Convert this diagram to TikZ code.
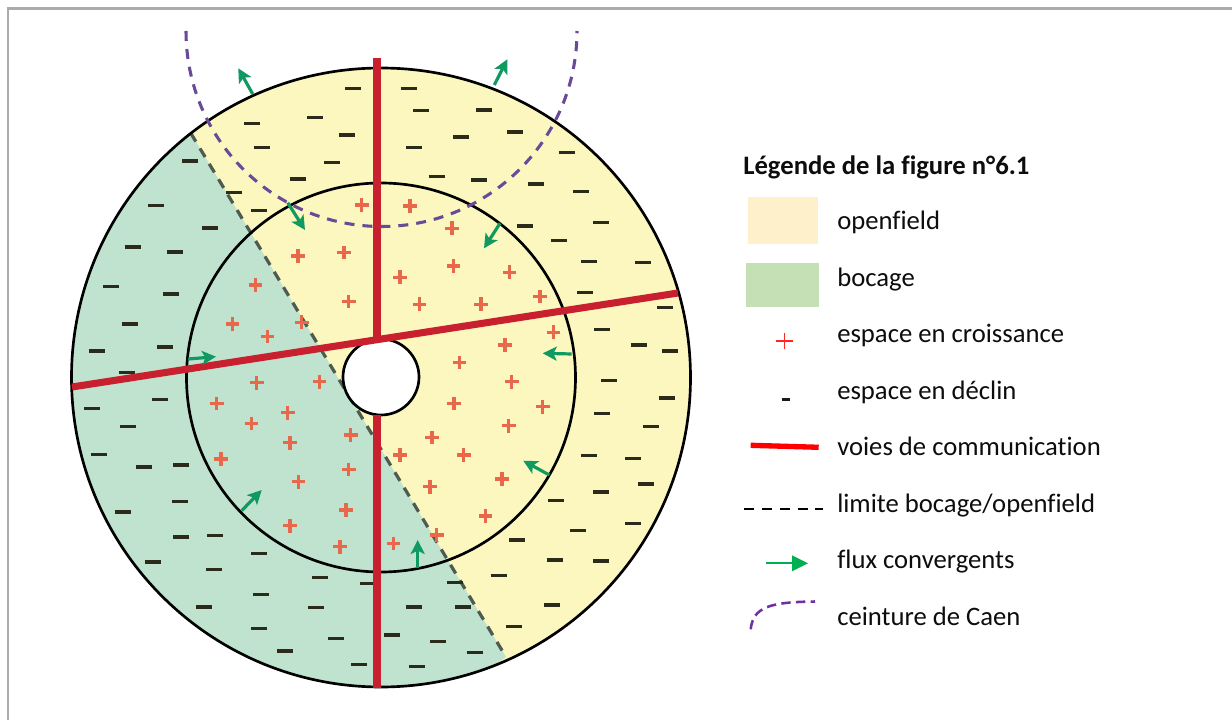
\documentclass[tikz,border=0pt]{standalone}
\usepackage{fontspec}
\setmainfont[Ligatures=NoCommon]{Carlito}
\usetikzlibrary{arrows.meta}
\definecolor{ofield}{HTML}{FBF7BF}
\definecolor{bcage}{HTML}{BFE3CF}
\definecolor{legof}{HTML}{FFF0CC}
\definecolor{legbc}{HTML}{C5E0B4}
\definecolor{roadred}{HTML}{C9202F}
\definecolor{plusred}{HTML}{E8684C}
\definecolor{minusdk}{HTML}{2B2B1C}
\definecolor{flowgr}{HTML}{109A62}
\definecolor{beltpu}{HTML}{6A4A96}
\definecolor{limitgr}{HTML}{4F5A50}
\definecolor{leggr}{HTML}{00B050}
\definecolor{legpu}{HTML}{7030A0}
\tikzset{
  x=0.75pt,y=-0.75pt,
  ring/.style={draw=black,line width=2pt},
  road/.style={draw=roadred,line width=5.3pt},
  plusmark/.style={draw=plusred,line width=2.5pt},
  minusmark/.style={draw=minusdk,line width=2.3pt},
  flow/.style={draw=flowgr,line width=2.4pt,-{Stealth[length=10.5pt,width=10.5pt,inset=2.5pt]}},
  belt/.style={draw=beltpu,line width=2.3pt,dash pattern=on 7.5pt off 6pt},
  limit/.style={draw=limitgr,line width=2.4pt,dash pattern=on 7.5pt off 6pt},
  legtext/.style={anchor=base west,inner sep=0pt,font=\fontsize{20pt}{24pt}\selectfont,text=black!95},
}
\begin{document}
\begin{tikzpicture}
\useasboundingbox (0,0) rectangle (1232,720);
\fill[white] (0,0) rectangle (1232,720);
% frame
\draw[draw=black!33,line width=2.2pt] (8,720) -- (8,8.5) -- (1232,8.5);
% disk
\fill[ofield] (381,377.5) circle (309.5);
\begin{scope}
  \clip (381,377.5) circle (309.5);
  \fill[bcage] (190.7,133) -- (506,657) -- (300,800) -- (0,800) -- (0,100) -- cycle;
\end{scope}
\draw[limit] (190.7,133) -- (506,657);
% marks
\foreach \mx/\my in {361.7/205,298/256,344/252.7,348.7/301.7,255.3/285,232.3/324,267.3/336.7,301.7/322.3,
 410/206,452/228.3,453.3/266,509.3/272.3,400/277.3,419.3/304.3,481/304.3,540/296.7,553.3/332.3,505/345,
 256.7/382.7,319.3/381.7,216.7/403.3,287.7/412.7,251.3/423.3,350.7/435,290/442.7,221/459,348.7/469.3,298.3/481.7,346/510,290/525.7,340/546.7,
 459.3/362.7,511.7/381.7,454/403.3,542.7/406.7,508.7/425.7,432/437.3,400/455,463.7/455,502/479,430/486.7,485.3/516,436.7/535,393.3/543.3}
  \draw[plusmark] (\mx-6.8,\my) -- (\mx+6.8,\my) (\mx,\my-6.8) -- (\mx,\my+6.8);
\foreach \mx/\my in {353.3/88.3,315/117.3,252/123.7,347.3/135,261.7/147.7,331.7/162.3,190/161,297.7/179,234.3/192.7,156/205.7,259.3/210.3,210/228,132.7/247,174.7/252,111/286.3,171.3/294,129.7/324,165.3/347,96.7/351,
 408.7/88.3,421.3/110.7,484/110,461.3/137,515.3/132,414/147.7,566.7/152.7,436.7/176.7,478.7/180,536.3/184,581.3/191.3,524.7/226,601.3/222.7,559.3/240.3,589.3/261.3,643/262.7,585.3/292.7,665/307.3,602/329.3,638.7/345,670/351,
 126.7/372.3,160/399.3,92/408.3,127.7/426.3,99.3/454.7,144.3/467,181/465,180/501.7,122.7/512,181/537,215.3/535.7,259.3/553.7,152.7/562,214.3/569.3,320/577.7,368/583.7,261.3/594.3,204/607,315.7/607.7,259.3/628.7,335.7/638.3,285.3/651,359.3/664.3,
 609.3/380.3,666.7/398,602/413.7,651.3/426.3,589.3/455.7,633.3/458.7,646/484,601.3/492,556/500.3,633.3/523.3,578/530.7,517.3/540,555/560,601.3/561,498.7/575.7,454.7/582.7,551.7/605,414/607,463/607,514.3/626.7,392/635,438/641.3,474.7/652.7,417/666.3}
  \draw[minusmark] (\mx-8,\my) -- (\mx+8,\my);
% circles
\draw[ring] (381,377.5) circle (309.5);
\draw[ring] (381,377.5) circle (194.5);
\draw[ring,fill=white] (381,377) circle (38);
% roads
\draw[road] (377,58) -- (377,339);
\draw[road] (377,415) -- (377,688);
\draw[road] (72,387) -- (678,293);
% belt
\draw[belt] (186,31) arc[start angle=180,end angle=0,radius=195.5];
% flows
\draw[flow] (252.7,94) -- (238.3,68.3);
\draw[flow] (287.7,202.7) -- (305,230);
\draw[flow] (188.3,359) -- (216,356.7);
\draw[flow] (494.3,85) -- (507.3,59.3);
\draw[flow] (500,223.3) -- (484,248.3);
\draw[flow] (571.7,354) -- (542.7,353.3);
\draw[flow] (241.7,510.7) -- (261.7,490);
\draw[flow] (549.3,475) -- (523.3,460.7);
\draw[flow] (417.7,568.3) -- (417.7,540);
% legend
\node[legtext,font=\fontsize{20pt}{24pt}\selectfont\bfseries] (legtitle) at (743,174.2) {Légende de la figure n°6.1};
\fill[legof] (748,197) rectangle (818,243.7);
\fill[legbc] (746,263) rectangle (819,306.7);
\draw[draw=red!85!white,line width=0.9pt] (776,341) -- (792.5,341) (784.3,332.8) -- (784.3,349.2);
\draw[draw=black!90,line width=1.7pt] (781.7,399.5) -- (790,399.5);
\draw[draw=red,line width=4pt] (750.7,445.3) -- (818.7,447.3);
\draw[draw=black,line width=1.7pt,dash pattern=on 7.5pt off 5.9pt] (744,509) -- (823,509);
\draw[draw=leggr,line width=1.7pt] (766,563.3) -- (794,563.3);
\fill[leggr] (792,555.3) -- (808,563.3) -- (792,571.3) -- cycle;
\draw[draw=legpu,line width=1.9pt,dash pattern=on 7pt off 4pt] (750.7,629.3) .. controls (753,607) and (770,602) .. (815,601.5);
\node[legtext] (lopen) at (837,229.5) {openfield};
\node[legtext] (lboc) at (837,286.7) {bocage};
\node[legtext] (lcro) at (837,342.7) {espace en croissance};
\node[legtext] (ldec) at (837,399) {espace en déclin};
\node[legtext] (lvoi) at (837,455.3) {voies de communication};
\node[legtext] (llim) at (837,512.7) {limite bocage/openfield};
\node[legtext] (lflu) at (837,568.7) {flux convergents};
\node[legtext] (lcei) at (837,625.3) {ceinture de Caen};
\end{tikzpicture}
\end{document}
